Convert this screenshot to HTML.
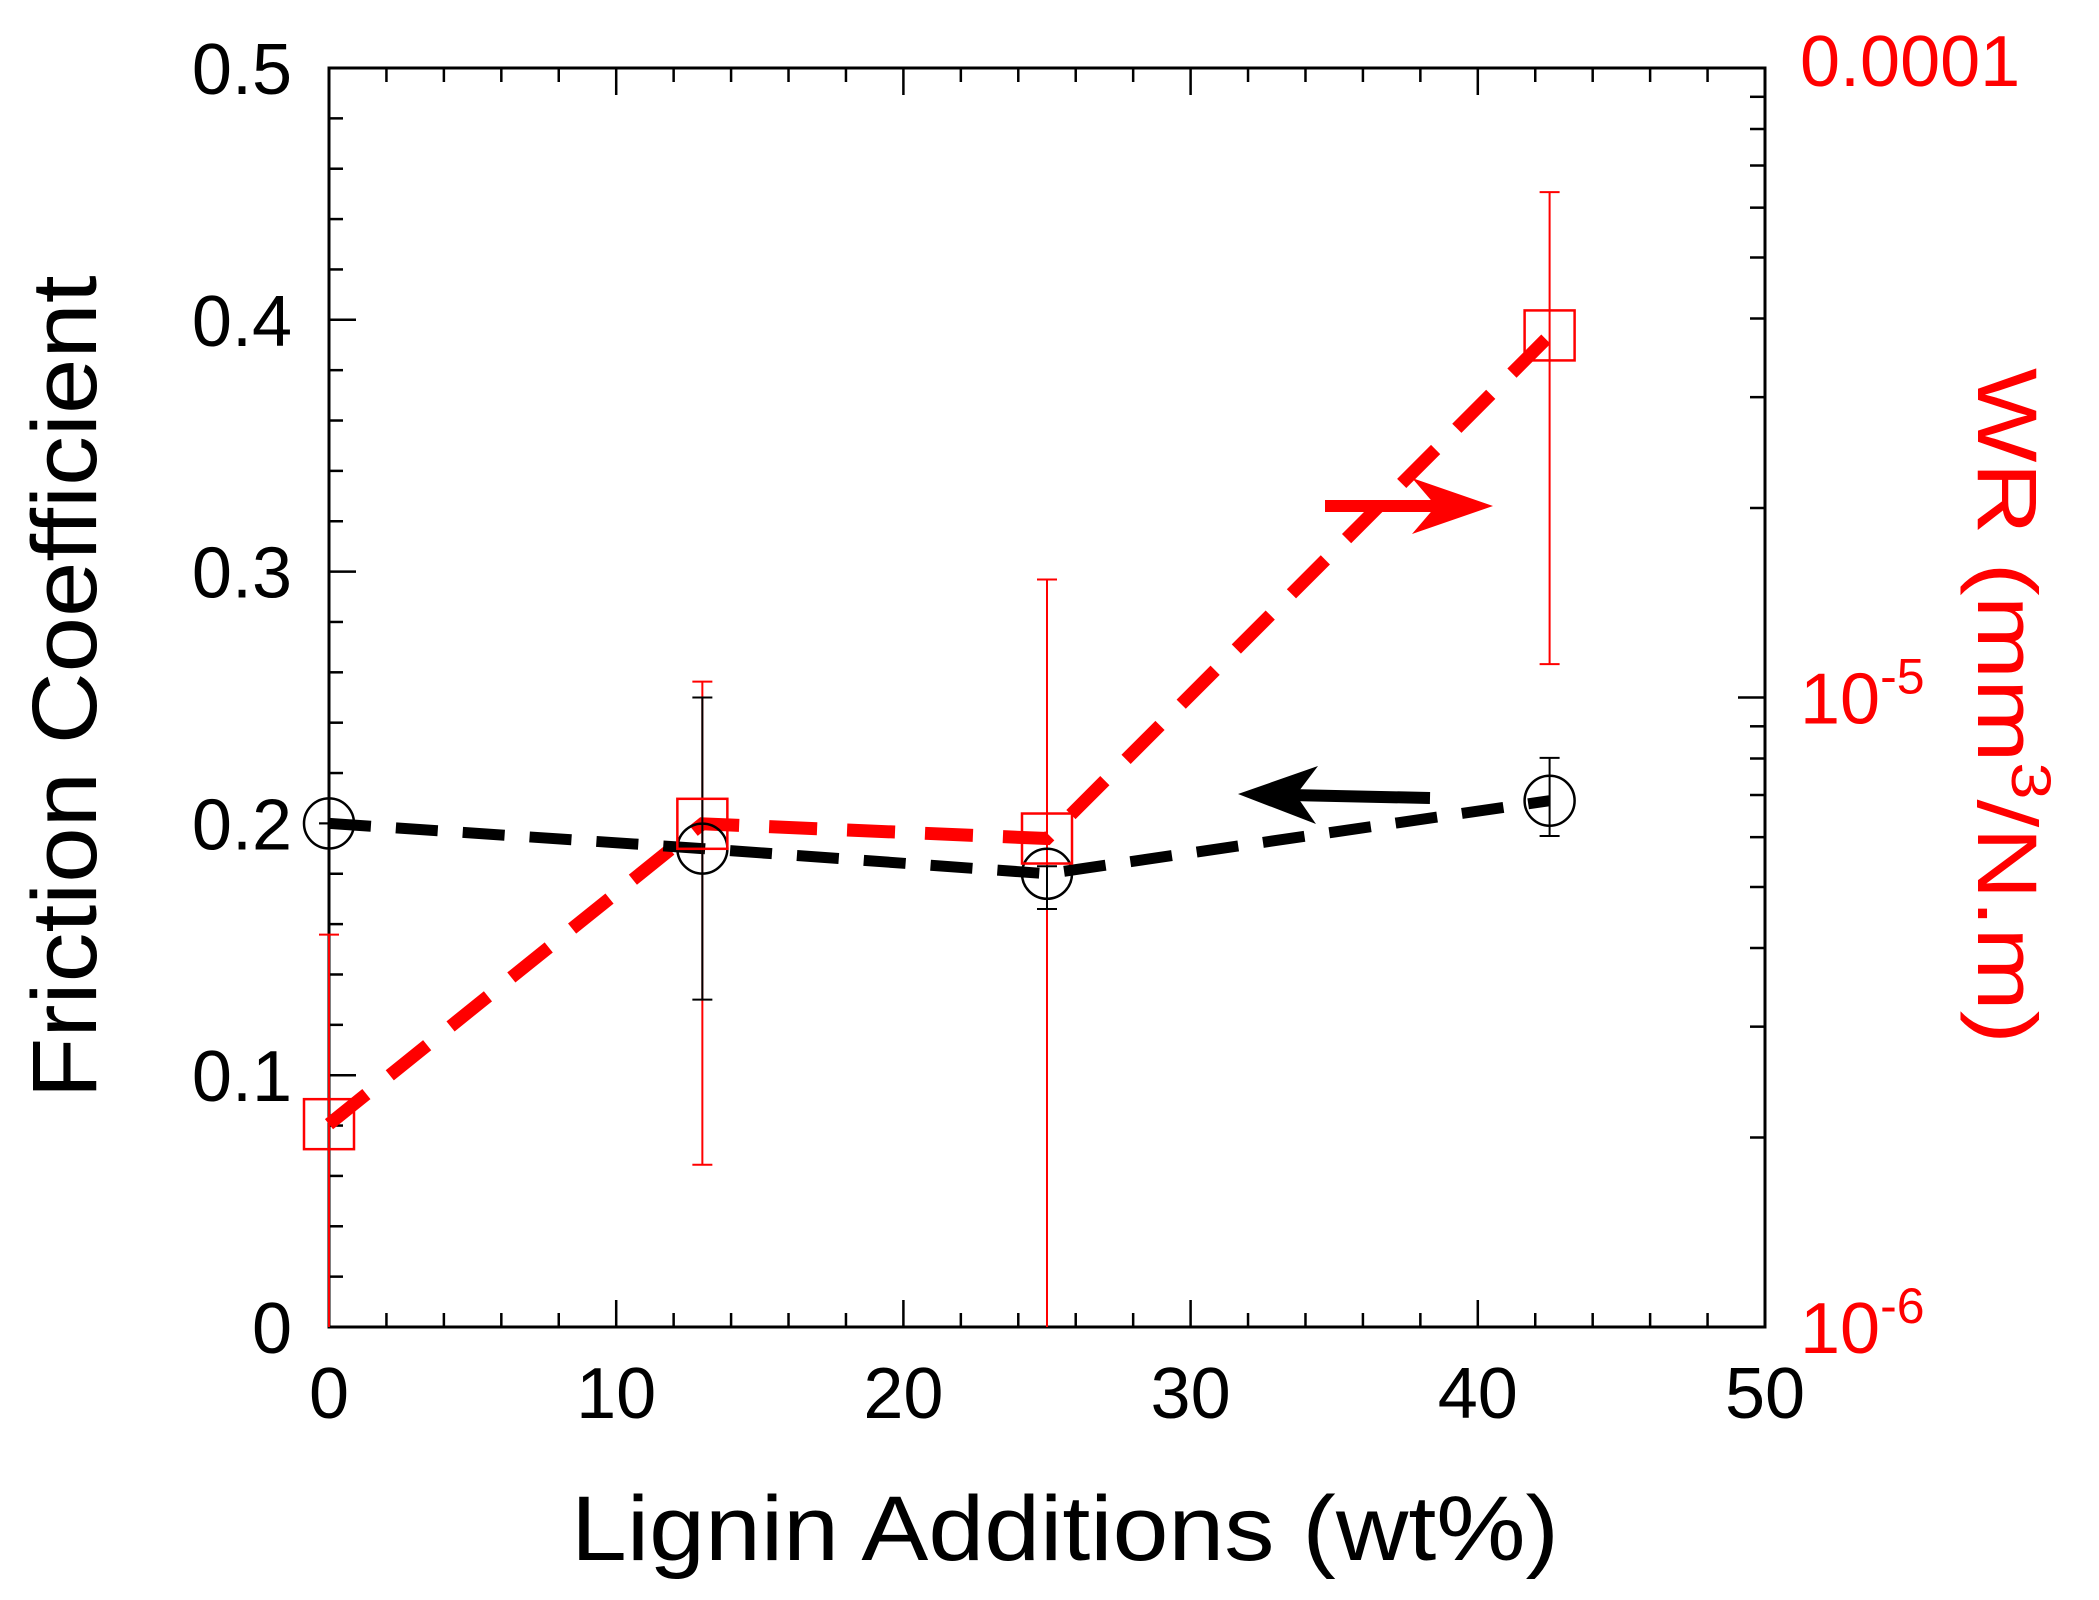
<!DOCTYPE html>
<html><head><meta charset="utf-8"><style>
html,body{margin:0;padding:0;background:#fff;}
svg{display:block;font-family:"Liberation Sans",sans-serif;}
</style></head><body>
<svg id="chart" width="2099" height="1600" viewBox="0 0 2099 1600" xmlns="http://www.w3.org/2000/svg">
<g id="axes"></g>
<g id="series"></g>
<text x="1065" y="1560" font-size="92" text-anchor="middle" textLength="988" lengthAdjust="spacingAndGlyphs">Lignin Additions (wt%)</text>
<text transform="translate(96,687) rotate(-90)" font-size="92" text-anchor="middle" textLength="823" lengthAdjust="spacingAndGlyphs">Friction Coefficient</text>
<text transform="translate(1978,706) rotate(90)" font-size="84" fill="#ff0000" text-anchor="middle" textLength="676" lengthAdjust="spacingAndGlyphs">WR (mm<tspan font-size="56" dy="-34">3</tspan><tspan dy="34">/N.m)</tspan></text>
<g><line x1="1325" y1="506" x2="1440" y2="506" stroke="#ff0000" stroke-width="12"/><polygon points="1493,506 1412,478 1436,506 1412,534" fill="#ff0000"/></g>
<g><line x1="1430" y1="798" x2="1290" y2="795" stroke="#000" stroke-width="12"/><polygon points="1238,794 1318,766 1296,795 1316,824" fill="#000"/></g>
</svg>
<script>
const xVals=[0,13,25,42.5];
const friction=[0.2,0.19,0.18,0.209];
const frictionHi=[0.2,0.25,0.183,0.226];
const frictionLo=[0.2,0.13,0.166,0.195];
const wear=[2.1e-6,6.3e-6,5.97e-6,3.76e-5];
const wearHi=[4.2e-6,1.06e-5,1.54e-5,6.35e-5];
const wearLo=[1e-7,1.81e-6,1e-7,1.13e-5];
const xTicks=[0,10,20,30,40,50];
const yTicks=[0,0.1,0.2,0.3,0.4,0.5];
const y2Ticks=[1e-6,1e-5,1e-4];

const L=329,R=1765,T=68,B=1327;
const NS="http://www.w3.org/2000/svg";
const sx=v=>L+(v-0)/(50-0)*(R-L);
const sy=v=>B-(v-0)/(0.5)*(B-T);
const sy2=v=>{const f=(Math.log10(Math.max(v,1e-7))+6)/2;return B-f*(B-T);};
function mk(tag,attrs,parent){const e=document.createElementNS(NS,tag);for(const k in attrs)e.setAttribute(k,attrs[k]);parent.appendChild(e);return e;}
const ax=document.getElementById('axes'),se=document.getElementById('series');
const frame=mk('rect',{x:L,y:T,width:R-L,height:B-T,fill:'none',stroke:'#000','stroke-width':3},ax);


for(let v=0;v<=50;v+=2){const maj=v%10===0;const x=sx(v);
mk('line',{x1:x,y1:B,x2:x,y2:B-(maj?27:14),stroke:'#000','stroke-width':2.5},ax);
mk('line',{x1:x,y1:T,x2:x,y2:T+(maj?27:14),stroke:'#000','stroke-width':2.5},ax);}
xTicks.forEach(v=>{const t=mk('text',{x:sx(v),y:1418,'font-size':72,'text-anchor':'middle'},ax);t.textContent=v;

});
for(let i=0;i<=25;i++){const v=i*0.02;const maj=i%5===0;const y=sy(v);
mk('line',{x1:L,y1:y,x2:L+(maj?27:14),y2:y,stroke:'#000','stroke-width':2.5},ax);}
yTicks.forEach(v=>{const t=mk('text',{x:292,y:sy(v)+26,'font-size':72,'text-anchor':'end'},ax);t.textContent=v===0?'0':v.toFixed(1);

});
for(let d=-6;d<-4;d++){for(let m=1;m<=9;m++){const v=m*Math.pow(10,d);const y=sy2(v);
mk('line',{x1:R,y1:y,x2:R-(m===1?27:15),y2:y,stroke:'#000','stroke-width':2.5},ax);}}
const y2Lab=[['0.0001',null],['10','-5'],['10','-6']];
[1e-4,1e-5,1e-6].forEach((v,i)=>{const t=mk('text',{x:1800,y:sy2(v)+(i===0?18:26),'font-size':72,fill:'#ff0000'},ax);


t.textContent=y2Lab[i][0];if(y2Lab[i][1]){const s=mk('tspan',{'font-size':50,dy:-30},t);s.textContent=y2Lab[i][1];}});
const rp=xVals.map((x,i)=>sx(x)+','+sy2(wear[i])).join(' ');
const rl=mk('polyline',{points:rp,fill:'none',stroke:'#ff0000','stroke-width':13,'stroke-dasharray':'48 30'},se);


const bp=xVals.map((x,i)=>sx(x)+','+sy(friction[i])).join(' ');
const bl=mk('polyline',{points:bp,fill:'none',stroke:'#000','stroke-width':11,'stroke-dasharray':'42 25'},se);


xVals.forEach((x,i)=>{const X=sx(x);
const y1=Math.min(sy2(wearLo[i]),B),y0=sy2(wearHi[i]);
const g=mk('g',{stroke:'#ff0000','stroke-width':2},se);


mk('line',{x1:X,y1:y0,x2:X,y2:y1},g);mk('line',{x1:X-10,y1:y0,x2:X+10,y2:y0},g);
if(sy2(wearLo[i])<B)mk('line',{x1:X-10,y1:y1,x2:X+10,y2:y1},g);
const g2=mk('g',{stroke:'#000','stroke-width':2},se);


mk('line',{x1:X,y1:sy(frictionHi[i]),x2:X,y2:sy(frictionLo[i])},g2);
[frictionHi[i],frictionLo[i]].forEach(v=>mk('line',{x1:X-10,y1:sy(v),x2:X+10,y2:sy(v)},g2));});
xVals.forEach((x,i)=>{const c=mk('circle',{cx:sx(x),cy:sy(friction[i]),r:25,fill:'none',stroke:'#000','stroke-width':2.5},se);


const s=mk('rect',{x:sx(x)-25,y:sy2(wear[i])-25,width:50,height:50,fill:'none',stroke:'#ff0000','stroke-width':2.5},se);

});
</script>
</body></html>
